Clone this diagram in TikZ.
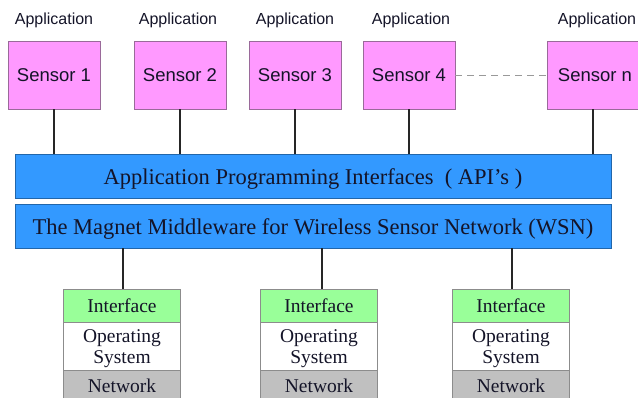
\documentclass[tikz,border=0pt]{standalone}
\usepackage{fontspec}
\setmainfont{Liberation Serif}
\newfontfamily\arialfont{Liberation Sans}
\definecolor{sensorpink}{HTML}{FF99FF}
\definecolor{sensorline}{HTML}{9A6A9A}
\definecolor{barblue}{HTML}{3399FF}
\definecolor{barline}{HTML}{2266AA}
\definecolor{ifgreen}{HTML}{99FF99}
\definecolor{netgray}{HTML}{C0C0C0}
\definecolor{stackline}{HTML}{8C8C8C}
\definecolor{textdark}{HTML}{141428}
\tikzset{
  sensorbox/.style={draw=sensorline, line width=0.8pt, fill=sensorpink, minimum width=92pt, minimum height=68pt, inner sep=0pt, text=textdark, font=\arialfont\fontsize{18.5}{20}\selectfont},
  applabel/.style={inner sep=0pt, text=textdark, font=\arialfont\fontsize{16}{18}\selectfont},
  barbox/.style={draw=barline, line width=0.8pt, fill=barblue, minimum width=596pt, inner sep=0pt, text height=20pt, text depth=3.5pt, text=textdark, font=\fontsize{22.5}{25}\selectfont},
  stackbox/.style={draw=stackline, line width=0.6pt, minimum width=117pt, inner sep=0pt, text=textdark, align=center, font=\fontsize{19.5}{21}\selectfont},
  link/.style={draw=black!85, line width=1.1pt},
  dashlink/.style={draw=gray!80, line width=0.9pt, dash pattern=on 7pt off 5pt}
}
\begin{document}
\begin{tikzpicture}[x=1pt,y=-1pt]
\useasboundingbox (0,0) rectangle (638,398);
\clip (0,0) rectangle (638,398);
% sensors
\node[sensorbox] (s1) at (54,75) {Sensor 1};
\node[sensorbox] (s2) at (180,75) {Sensor 2};
\node[sensorbox] (s3) at (295,75) {Sensor 3};
\node[sensorbox] (s4) at (409,75) {Sensor 4};
\node[sensorbox, minimum width=96pt] (sn) at (595,75) {Sensor n};
% application labels
\node[applabel] (a1) at (54,20) {Application};
\node[applabel] (a2) at (178,20) {Application};
\node[applabel] (a3) at (295,20) {Application};
\node[applabel] (a4) at (411,20) {Application};
\node[applabel] (an) at (597,20) {Application};
% bars
\node[barbox, minimum height=44pt] (api) at (313,176) {Application Programming Interfaces \ ( API’s )};
\node[barbox, minimum height=44pt] (mw) at (313,226) {The Magnet Middleware for Wireless Sensor Network (WSN)};
% stacks
\foreach \i/\x in {1/122,2/319,3/511}{
  \node[stackbox, fill=ifgreen, minimum height=33pt] (if\i) at (\x,305.5) {Interface};
  \node[stackbox, fill=white, minimum height=48pt, text height=40pt, text depth=4pt] (os\i) at (\x,346) {Operating\\System};
  \node[stackbox, fill=netgray, minimum height=32pt] (nw\i) at (\x,386) {Network};
}
% connectors
\foreach \s in {s1,s2,s3,s4}{
  \draw[link] (\s.south) -- (\s.south |- api.north);
}
\draw[link] ([xshift=-2pt]sn.south) -- ([xshift=-2pt]sn.south |- api.north);
\draw[dashlink] (s4.east) -- (sn.west);
\draw[link] ([xshift=1pt]if1.north) -- ([xshift=1pt]if1.north |- mw.south);
\draw[link] ([xshift=3pt]if2.north) -- ([xshift=3pt]if2.north |- mw.south);
\draw[link] ([xshift=1pt]if3.north) -- ([xshift=1pt]if3.north |- mw.south);
\end{tikzpicture}
\end{document}
